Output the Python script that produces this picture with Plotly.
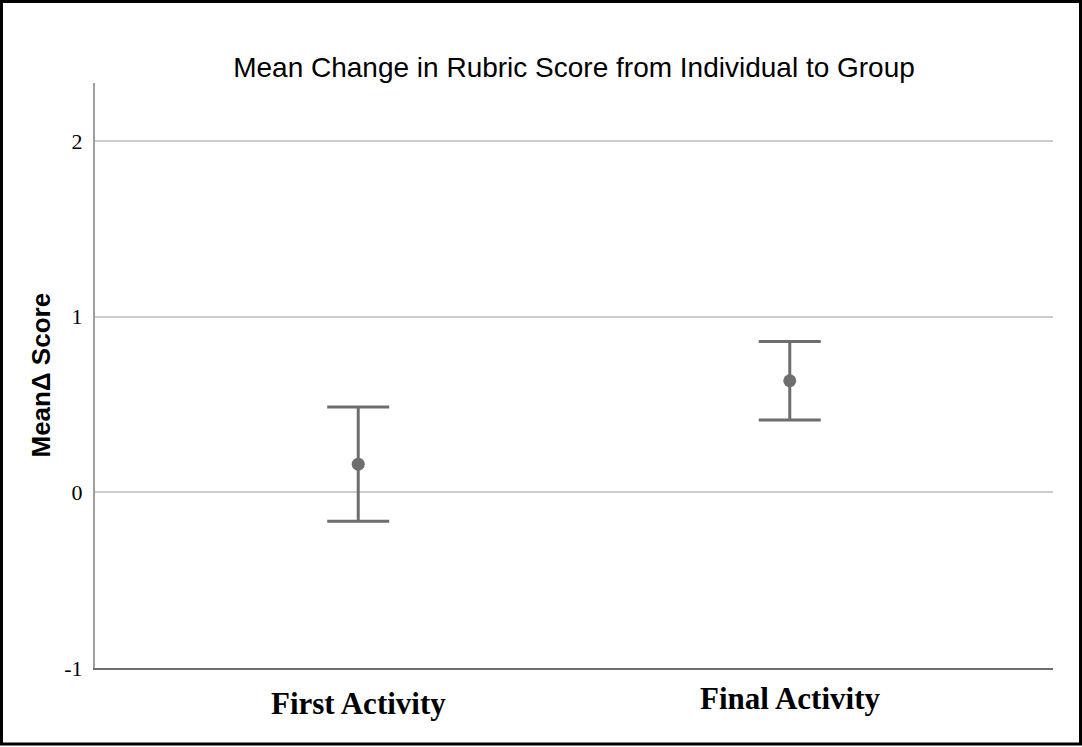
import plotly.graph_objects as go

categories = ["First Activity", "Final Activity"]
means = [0.16, 0.635]
err_plus = [0.325, 0.223]
err_minus = [0.325, 0.223]
y_ticks = [-1, 0, 1, 2]
title_text = "Mean Change in Rubric Score from Individual to Group"
y_title = "MeanΔ Score"

W, H = 1082, 747
L, R, T, B = 95, 29, 83, 79
pw, ph = W - L - R, H - T - B

fig = go.Figure()
fig.add_trace(go.Scatter(
    x=categories, y=means, mode="markers",
    marker=dict(size=13, color="#6e6e6e"),
    error_y=dict(type="data", symmetric=False, array=err_plus, arrayminus=err_minus,
                 color="#6e6e6e", thickness=3, width=31),
    showlegend=False, hoverinfo="skip",
))

annotations = []
shifts = [-16, -11]
for c, s in zip(categories, shifts):
    annotations.append(dict(x=c, xref="x", y=0, yref="paper", yanchor="top", yshift=s,
                            text="<b>%s</b>" % c, showarrow=False,
                            font=dict(family="Liberation Serif, Times New Roman, serif", size=31, color="black")))
annotations.append(dict(x=(40 - L) / pw, xref="paper", y=0.5, yref="paper",
                        text="<b>%s</b>" % y_title, textangle=-90, showarrow=False,
                        xanchor="center", yanchor="middle",
                        font=dict(family="Liberation Sans, Arial, sans-serif", size=26, color="black")))

fig.update_layout(
    width=W, height=H,
    margin=dict(l=L, r=R, t=T, b=B),
    paper_bgcolor="white", plot_bgcolor="white",
    title=dict(text=title_text, x=0.5, xref="paper", xanchor="center",
               y=1 - 67 / H, yref="container", yanchor="middle",
               font=dict(family="Liberation Sans, Arial, sans-serif", size=28, color="black")),
    xaxis=dict(range=[-0.61, 1.61], showticklabels=False, ticks="", showgrid=False,
               showline=True, linecolor="#6e6e6e", linewidth=2, zeroline=False),
    yaxis=dict(range=[-1, 2.33], tickvals=y_ticks, ticktext=[str(v) for v in y_ticks],
               showgrid=True, gridcolor="#cccccc", gridwidth=2, zeroline=False,
               showline=True, linecolor="#a0a0a0", linewidth=2, ticks="", ticklen=0,
               ticklabelstandoff=6,
               tickfont=dict(family="Liberation Serif, Times New Roman, serif", size=22, color="black")),
    annotations=annotations,
    shapes=[dict(type="rect", xref="paper", yref="paper",
                 x0=(1.5 - L) / pw, x1=(W - 1.5 - L) / pw,
                 y0=-(B - 3) / ph, y1=1 + (T - 1.5) / ph,
                 line=dict(color="black", width=3), layer="above")],
)

fig.write_html("out.html", config={"displayModeBar": False},
               post_script="document.body.style.margin='0';document.body.style.overflow='hidden';")
